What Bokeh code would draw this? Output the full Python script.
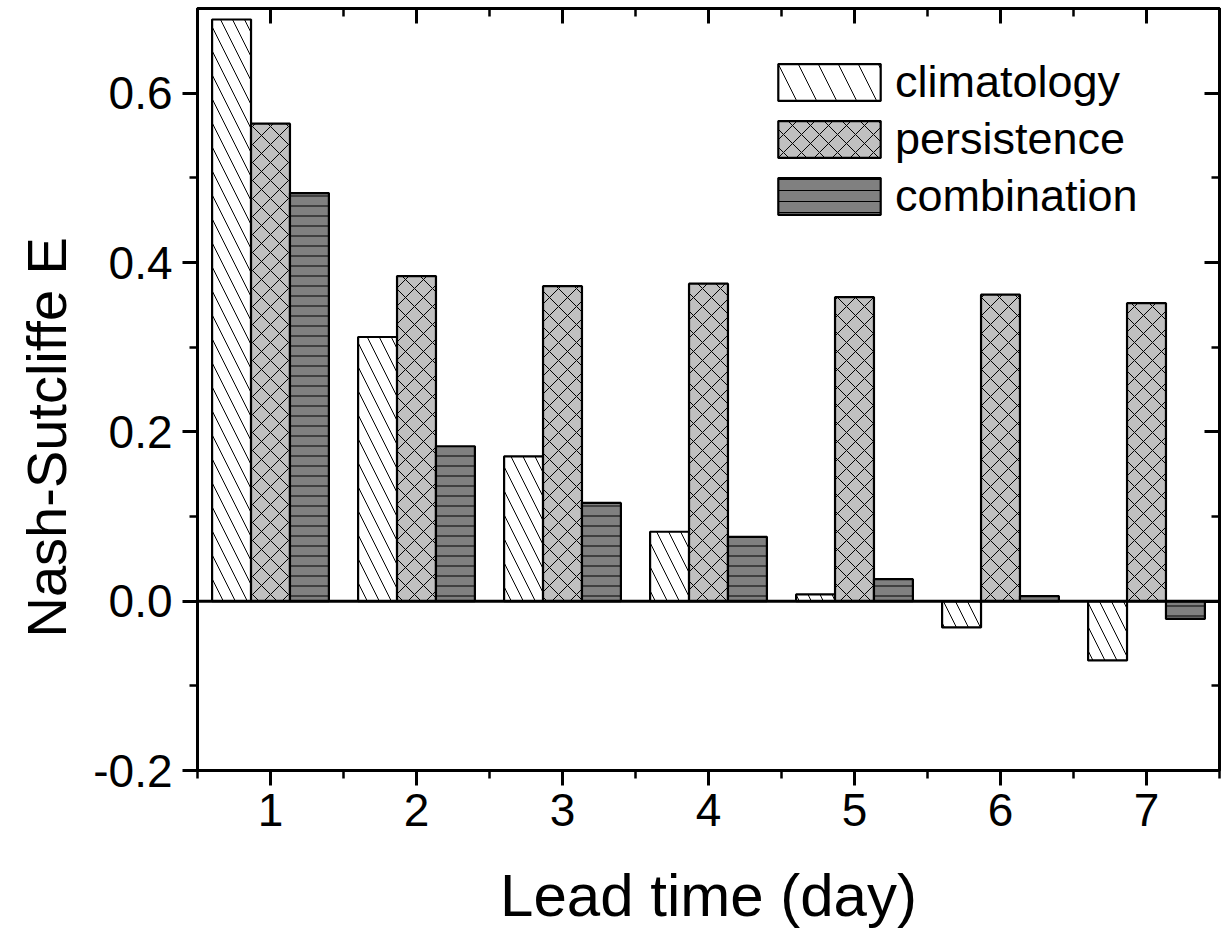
from bokeh.plotting import figure
from bokeh.models import (FixedTicker, LinearAxis, Legend, LegendItem, Span, Title,
                          PrintfTickFormatter, CustomJSTickFormatter,
                          ColumnDataSource, Range1d)
from bokeh.transform import dodge
from bokeh.embed import file_html
from bokeh.resources import INLINE

# ---- data ----
days = [1, 2, 3, 4, 5, 6, 7]
climatology = [0.687, 0.312, 0.171, 0.082, 0.008, -0.031, -0.070]
persistence = [0.564, 0.384, 0.372, 0.375, 0.359, 0.362, 0.352]
combination = [0.482, 0.183, 0.116, 0.076, 0.026, 0.006, -0.021]
series_names = ["climatology", "persistence", "combination"]
y_major = [-0.2, 0.0, 0.2, 0.4, 0.6]
y_minor = [-0.1, 0.1, 0.3, 0.5]
x_minor = [0.5, 1.5, 2.5, 3.5, 4.5, 5.5, 6.5, 7.5]
x_title = "Lead time (day)"
y_title = "Nash-Sutcliffe E"

src = ColumnDataSource(dict(day=days, climatology=climatology,
                            persistence=persistence, combination=combination))

FONT = "Liberation Sans"
BW = 0.8 / 3

p = figure(x_range=Range1d(0.5, 7.5), y_range=Range1d(-0.2, 0.7),
           frame_width=1022, frame_height=762,
           output_backend="svg", toolbar_location=None,
           min_border_left=189, min_border_right=2, min_border_top=8,
           min_border_bottom=0, background_fill_color="white",
           border_fill_color="white")
p.xgrid.visible = False
p.ygrid.visible = False
p.outline_line_color = "black"
p.outline_line_width = 3

bar_styles = [
    dict(fill_color="white", hatch_pattern="\\", hatch_scale=24),
    dict(fill_color="#c0c0c0", hatch_pattern="x", hatch_scale=18),
    dict(fill_color="#808080", hatch_pattern="-", hatch_scale=10),
]
legend_styles = [
    dict(fill_color="white", hatch_pattern="\\", hatch_scale=40),
    dict(fill_color="#c0c0c0", hatch_pattern="x", hatch_scale=18),
    dict(fill_color="#808080", hatch_pattern="-", hatch_scale=11),
]
offsets = [-BW, 0.0, BW]
legend_renderers = []
for name, off, st, lst in zip(series_names, offsets, bar_styles, legend_styles):
    p.vbar(x=dodge("day", off, range=p.x_range), top=name, bottom=0,
           width=BW, source=src, line_color="black", line_width=2.2,
           hatch_color="black", hatch_weight=1.0, hatch_alpha=1.0, **st)
    # legend key for the same series (drawn off-range; only its swatch shows)
    lr = p.vbar(x=[-10], top=[0], bottom=[0], width=BW, line_color="black",
                line_width=2.2, hatch_color="black", hatch_weight=1.0,
                hatch_alpha=1.0, **lst)
    legend_renderers.append(lr)

p.add_layout(Span(location=0, dimension="width", line_color="black", line_width=3))

def style_axis(ax, ticks, minor, show_labels, tin, tout, min_in, min_out):
    ax.ticker = FixedTicker(ticks=ticks, minor_ticks=minor)
    ax.axis_line_width = 3
    ax.axis_line_color = "black"
    ax.major_tick_line_width = 3
    ax.minor_tick_line_width = 2.5
    ax.major_tick_in = tin
    ax.major_tick_out = tout
    ax.minor_tick_in = min_in
    ax.minor_tick_out = min_out
    ax.major_label_text_font = FONT
    ax.major_label_text_color = "black"
    ax.axis_label_text_font = FONT
    ax.axis_label_text_font_style = "normal"
    ax.axis_label_text_color = "black"
    if not show_labels:
        ax.formatter = CustomJSTickFormatter(code="return ''")
        ax.major_label_standoff = 0

# bottom
xa = p.xaxis[0]
style_axis(xa, days, x_minor, True, 0, 15, 0, 8)
xa.major_label_text_font_size = "46px"
xa.major_label_standoff = 8
xa.axis_label = x_title
xa.axis_label_text_font_size = "60px"
xa.axis_label_standoff = 33

# left
ya = p.yaxis[0]
style_axis(ya, y_major, y_minor, True, 0, 15, 0, 8)
ya.formatter = PrintfTickFormatter(format="%.1f")
ya.major_label_text_font_size = "46px"
ya.major_label_standoff = 10

ytitle = Title(text=y_title, align="left", offset=133, standoff=25,
               text_font=FONT, text_font_size="56px", text_font_style="normal",
               text_color="black")
p.add_layout(ytitle, "left")

# top and right
top_ax = LinearAxis()
style_axis(top_ax, days, x_minor, False, 15, 0, 8, 0)
p.add_layout(top_ax, "above")
right_ax = LinearAxis()
style_axis(right_ax, y_major, y_minor, False, 15, 0, 8, 0)
p.add_layout(right_ax, "right")

legend = Legend(items=[LegendItem(label=n, renderers=[r]) for n, r in zip(series_names, legend_renderers)],
                location=(568, 548), glyph_width=128, glyph_height=46, spacing=5,
                label_height=46, label_standoff=2, padding=0, margin=0,
                label_text_font=FONT, label_text_font_size="45px",
                label_text_color="black", border_line_alpha=0,
                background_fill_alpha=0)
p.add_layout(legend, "center")

open("out.html", "w").write(file_html(p, INLINE))
